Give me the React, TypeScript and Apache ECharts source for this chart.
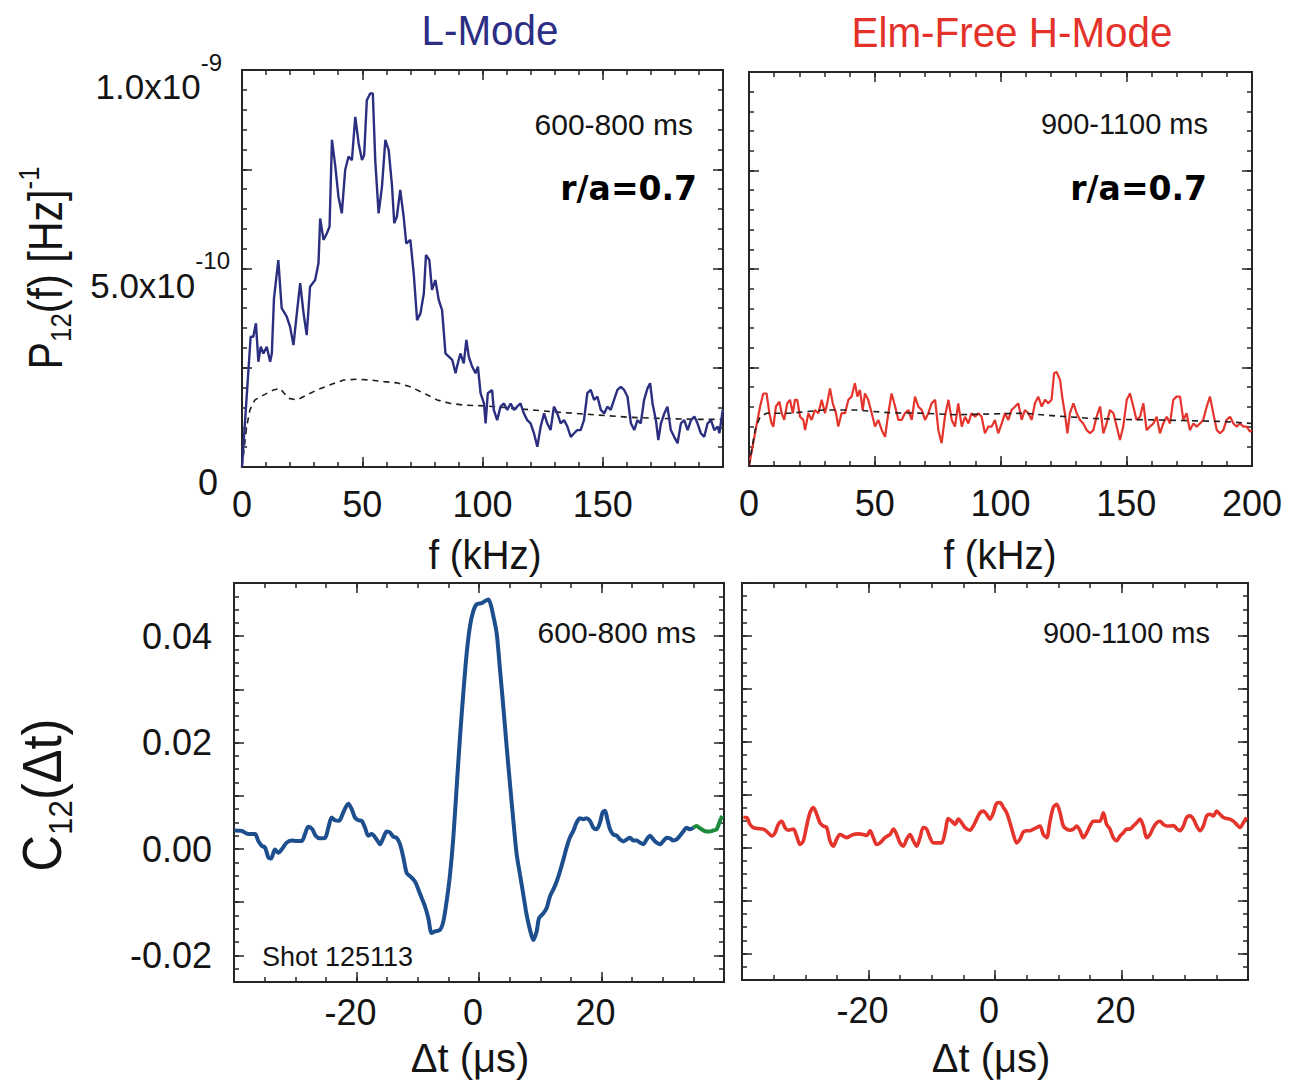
import React, { useEffect, useRef } from "react";
import * as echarts from "echarts";

// ---------------- data ----------------
// Cross power spectrum, L-mode (600-800 ms): [f kHz, P12 in units of 1e-10 Hz^-1]
const lModeSpectrum: number[][] = [
  [0, 0], [3.6, 3.28], [4.7, 3.28], [5.8, 3.62], [6.8, 2.65], [7.8, 3.03], [8.9, 2.86], [10.3, 3.03], [11.7, 2.65], [12.4, 2.86],
  [13.3, 4.25], [15.1, 5.21], [16.5, 4.0], [18.6, 3.79], [20.0, 3.53], [21.4, 3.07], [22.8, 3.87], [24.2, 4.63], [25.6, 3.87], [26.9, 3.32],
  [28.3, 4.54], [30.4, 4.71], [31.8, 5.13], [32.5, 6.26], [33.9, 5.72], [35.3, 5.89], [36.4, 6.05], [37.4, 8.24], [38.8, 7.57], [40.1, 6.81],
  [41.5, 6.39], [42.9, 7.48], [44.3, 7.82], [45.7, 7.73], [47.1, 8.82], [48.5, 8.15], [49.9, 7.73], [50.8, 7.86], [51.9, 9.24], [53.3, 9.41],
  [54.4, 9.41], [55.4, 7.73], [56.8, 6.39], [58.2, 7.06], [59.6, 8.24], [61.0, 7.98], [62.4, 7.06], [63.3, 6.14], [64.4, 6.31], [65.8, 6.98],
  [67.2, 6.31], [68.3, 5.63], [70.0, 5.72], [71.4, 4.88], [72.8, 3.7], [74.2, 3.87], [75.6, 4.37], [76.5, 5.34], [77.9, 5.21], [79.0, 4.46],
  [80.4, 4.71], [81.8, 4.21], [83.2, 3.95], [84.6, 2.86], [86.0, 2.78], [87.4, 2.7], [88.8, 2.36], [89.4, 2.53], [90.8, 2.86], [92.2, 2.61],
  [93.3, 3.2], [94.3, 2.78], [95.7, 2.53], [97.1, 2.36], [98.1, 2.53], [99.2, 1.86], [100.6, 1.6], [101.3, 1.1], [102.2, 1.86], [104.0, 1.94],
  [104.7, 1.44], [106.1, 1.18], [107.5, 1.52], [108.9, 1.6], [110.3, 1.44], [111.7, 1.6], [113.1, 1.44], [114.4, 1.52], [115.8, 1.6], [117.2, 1.35],
  [118.6, 1.18], [120.0, 1.1], [121.4, 0.85], [122.8, 0.51], [124.2, 1.02], [125.6, 1.35], [126.9, 1.1], [128.3, 0.93], [129.7, 1.52], [131.1, 1.35],
  [132.5, 1.1], [133.9, 1.18], [135.3, 1.02], [136.7, 0.76], [138.1, 0.85], [139.4, 0.93], [140.8, 0.93], [142.2, 1.18], [143.6, 1.86], [145.0, 1.94],
  [146.4, 1.69], [147.8, 1.77], [149.2, 1.44], [150.6, 1.35], [151.9, 1.52], [153.3, 1.44], [154.7, 1.69], [156.1, 1.94], [157.5, 2.02], [158.9, 1.94],
  [160.3, 1.77], [161.7, 1.1], [163.1, 0.93], [164.4, 1.18], [165.8, 1.1], [167.2, 1.69], [168.6, 1.98], [169.7, 2.11], [170.7, 1.6], [172.1, 1.18],
  [173.1, 0.68], [174.2, 1.1], [175.6, 1.35], [176.9, 1.52], [178.3, 0.93], [179.7, 0.76], [181.1, 0.6], [182.5, 1.1], [183.9, 1.18], [185.3, 0.93],
  [186.7, 1.18], [188.1, 1.27], [189.4, 1.1], [190.8, 0.85], [192.2, 0.76], [193.6, 1.1], [195.0, 1.18], [196.4, 0.93], [197.8, 1.02], [198.5, 0.85],
  [199.9, 1.44],
];
// Noise level, L-mode
const lModeNoise: number[][] = [
  [0, 0], [1.9, 1.0], [3.3, 1.44], [5.4, 1.69], [8.9, 1.81], [13.1, 1.94], [15.8, 1.98], [19.3, 1.73], [22.8, 1.69], [26.9, 1.81],
  [31.1, 1.94], [36.7, 2.07], [42.2, 2.19], [47.8, 2.21], [53.3, 2.19], [58.9, 2.15], [64.4, 2.12], [70.0, 2.02], [75.6, 1.86], [81.1, 1.69],
  [86.7, 1.6], [92.2, 1.56], [100.6, 1.54], [108.9, 1.5], [120.0, 1.44], [133.9, 1.37], [147.8, 1.31], [161.7, 1.25], [175.6, 1.22], [189.4, 1.2],
  [200.0, 1.2],
];
// Cross power spectrum, ELM-free H-mode (900-1100 ms)
const hModeSpectrum: number[][] = [
  [0, 0], [2.4, 0.83], [4.4, 1.51], [5.7, 1.84], [7.0, 1.84], [8.1, 1.34], [9.0, 1.08], [9.7, 1.0], [10.7, 1.51], [12.1, 1.63],
  [13.0, 1.34], [14.0, 1.17], [15.2, 1.59], [16.3, 1.68], [17.4, 1.34], [18.3, 1.68], [19.2, 1.68], [20.3, 1.25], [21.6, 1.17], [22.3, 0.91],
  [23.6, 1.34], [24.9, 1.17], [26.2, 1.42], [27.6, 1.34], [28.9, 1.68], [30.2, 1.34], [31.1, 1.59], [32.2, 1.97], [33.3, 1.59], [34.6, 1.34],
  [35.5, 1.0], [36.8, 1.34], [38.2, 1.34], [39.5, 1.68], [40.8, 1.76], [42.1, 2.1], [43.1, 1.76], [44.1, 1.93], [45.2, 1.42], [46.1, 1.84],
  [47.4, 1.68], [48.8, 1.34], [50.1, 1.0], [51.4, 1.17], [52.8, 0.91], [54.1, 0.74], [55.4, 1.34], [56.7, 1.84], [58.1, 1.51], [59.4, 1.17],
  [60.7, 1.17], [62.0, 1.34], [63.4, 1.42], [64.7, 1.17], [66.0, 1.76], [67.3, 1.51], [68.7, 1.42], [70.0, 1.17], [71.3, 1.34], [72.6, 1.59],
  [74.0, 1.68], [75.3, 0.91], [76.6, 0.58], [77.9, 1.25], [79.3, 1.68], [80.6, 1.17], [81.9, 1.0], [83.2, 1.59], [84.6, 1.0], [85.9, 1.25],
  [87.2, 1.08], [88.5, 1.34], [89.9, 1.25], [91.2, 1.34], [92.5, 1.25], [93.8, 0.83], [95.2, 1.0], [96.5, 1.0], [97.8, 1.17], [99.1, 0.83],
  [100.5, 1.08], [101.8, 1.34], [103.1, 1.17], [104.4, 1.42], [105.8, 1.51], [107.1, 1.59], [108.4, 1.17], [109.7, 1.42], [111.1, 1.34], [112.4, 1.17],
  [113.7, 1.59], [115.0, 1.76], [116.4, 1.51], [117.7, 1.68], [119.0, 1.59], [120.3, 1.68], [121.3, 2.35], [122.3, 2.39], [123.7, 2.18], [124.7, 1.68],
  [125.6, 1.34], [126.6, 0.83], [127.6, 1.34], [129.0, 1.59], [130.3, 1.34], [131.6, 1.17], [132.9, 1.08], [134.3, 0.91], [135.6, 0.83], [136.9, 0.91],
  [138.2, 1.25], [139.6, 1.51], [140.9, 0.83], [142.2, 1.08], [143.5, 1.42], [144.9, 1.34], [146.2, 1.0], [147.5, 0.66], [148.8, 1.0], [150.2, 1.68],
  [151.5, 1.84], [152.8, 1.51], [154.1, 1.17], [155.5, 1.25], [156.8, 1.59], [158.1, 0.91], [159.4, 1.0], [160.8, 1.08], [162.1, 1.25], [163.4, 0.83],
  [164.7, 1.08], [166.1, 1.25], [167.4, 1.08], [168.7, 1.68], [170.0, 1.76], [171.4, 1.76], [172.7, 1.17], [174.0, 1.34], [175.3, 0.91], [176.7, 1.08],
  [178.0, 1.0], [179.3, 1.08], [180.6, 1.17], [182.0, 1.51], [183.3, 1.76], [184.6, 1.34], [186.0, 0.91], [187.3, 0.83], [188.6, 0.91], [189.9, 1.17],
  [191.3, 1.25], [192.6, 1.08], [193.9, 1.0], [195.2, 1.08], [196.6, 1.0], [197.9, 1.0], [199.2, 0.87], [199.9, 0.91],
];
// Noise level, H-mode
const hModeNoise: number[][] = [
  [0, 0], [2.4, 0.91], [4.4, 1.25], [7.0, 1.34], [16.3, 1.34], [29.6, 1.42], [42.8, 1.42], [56.1, 1.35], [69.3, 1.34], [82.6, 1.3],
  [95.8, 1.32], [109.1, 1.34], [122.3, 1.27], [135.6, 1.21], [148.8, 1.18], [162.1, 1.17], [175.3, 1.15], [188.6, 1.13], [199.9, 1.08],
];
// Cross correlation, L-mode: [dt in microseconds, C12]
const lModeCorr: number[][] = [
  [-39.95, 0.0035], [-38.75, 0.0034], [-37.66, 0.0028], [-36.57, 0.0028], [-36.03, 0.0015], [-35.48, 0.0006], [-34.94, 0.0003], [-34.39, -0.0016],
  [-33.96, -0.0018], [-33.31, -0.0001], [-32.76, -0.0007], [-32.22, -0.0001], [-31.4, 0.0012], [-30.59, 0.0016], [-29.77, 0.0015], [-28.95, 0.0015],
  [-28.41, 0.0028], [-27.86, 0.0042], [-27.21, 0.0037], [-26.67, 0.0025], [-25.96, 0.002], [-25.14, 0.0021], [-24.6, 0.004], [-24.05, 0.0059],
  [-23.51, 0.0054], [-22.86, 0.0053], [-22.15, 0.0069], [-21.33, 0.0085], [-20.79, 0.0075], [-20.24, 0.0059], [-19.7, 0.0054], [-19.16, 0.0053],
  [-18.61, 0.004], [-18.07, 0.0025], [-17.52, 0.0028], [-16.71, 0.0018], [-16.16, 0.0009], [-15.62, 0.0021], [-15.07, 0.0033], [-14.53, 0.0031],
  [-13.99, 0.0023], [-13.44, 0.0021], [-12.9, 0.0009], [-12.35, -0.0016], [-11.81, -0.0045], [-11.27, -0.0051], [-10.45, -0.0061], [-9.9, -0.0076],
  [-9.36, -0.0092], [-8.82, -0.0108], [-8.27, -0.013], [-7.73, -0.0158], [-7.18, -0.0155], [-6.37, -0.0152], [-5.82, -0.0136], [-5.28, -0.0098],
  [-4.73, -0.0048], [-4.19, 0.0022], [-3.65, 0.0116], [-3.1, 0.0211], [-2.56, 0.0293], [-2.01, 0.0368], [-1.47, 0.0419], [-0.93, 0.0447],
  [-0.38, 0.046], [0.44, 0.0462], [0.98, 0.0466], [1.52, 0.0469], [1.9, 0.046], [2.34, 0.0438], [2.88, 0.0406], [3.43, 0.0337],
  [3.97, 0.0267], [4.52, 0.0192], [5.06, 0.0122], [5.61, 0.0053], [6.15, -0.001], [6.69, -0.0048], [7.24, -0.0086], [7.78, -0.0124],
  [8.33, -0.0152], [8.87, -0.0171], [9.41, -0.0155], [9.8, -0.013], [10.5, -0.0121], [11.05, -0.0111], [11.59, -0.0089], [12.14, -0.0076],
  [12.68, -0.0061], [13.22, -0.0042], [13.77, -0.002], [14.31, 0.0003], [14.86, 0.0022], [15.4, 0.0034], [15.95, 0.005], [16.49, 0.0058],
  [17.03, 0.0056], [17.58, 0.0058], [18.12, 0.0053], [18.67, 0.004], [19.21, 0.0037], [19.76, 0.005], [20.19, 0.0069], [20.57, 0.0072],
  [20.95, 0.0056], [21.39, 0.0037], [21.93, 0.0027], [22.48, 0.0025], [23.02, 0.0018], [23.56, 0.0014], [24.11, 0.0018], [24.65, 0.0021],
  [25.2, 0.0016], [25.74, 0.0016], [26.29, 0.0012], [26.83, 0.0009], [27.37, 0.0018], [27.92, 0.0025], [28.46, 0.0018], [29.01, 0.0012],
  [29.55, 0.0009], [30.1, 0.0015], [30.64, 0.0021], [31.18, 0.002], [31.73, 0.0016], [32.27, 0.0018], [32.82, 0.0025], [33.36, 0.0033],
  [33.9, 0.004], [34.45, 0.0037], [34.99, 0.004],
];
// L-mode correlation tail drawn in green
const lModeCorrTail: number[][] = [
  [34.99, 0.004], [35.54, 0.0043], [36.08, 0.0039], [36.63, 0.0035], [37.17, 0.0033], [37.71, 0.0033], [38.26, 0.0035], [38.8, 0.0037],
  [39.35, 0.0053], [39.73, 0.0062],
];
// Cross correlation, H-mode
const hModeCorr: number[][] = [
  [-39.79, 0.0057], [-39.26, 0.0057], [-38.74, 0.0044], [-38.21, 0.0038], [-37.42, 0.0036], [-36.63, 0.0035], [-35.84, 0.0028], [-35.31, 0.0022],
  [-34.78, 0.0028], [-34.26, 0.0044], [-33.73, 0.005], [-33.2, 0.0038], [-32.67, 0.0033], [-31.88, 0.0035], [-31.36, 0.0022], [-30.83, 0.0006],
  [-30.3, 0.0013], [-29.78, 0.0041], [-29.25, 0.0066], [-28.72, 0.0076], [-28.19, 0.0063], [-27.67, 0.0047], [-27.14, 0.0041], [-26.61, 0.0038],
  [-26.09, 0.0013], [-25.56, 0.0003], [-25.03, 0.0016], [-24.51, 0.0025], [-23.98, 0.0022], [-23.45, 0.0019], [-22.92, 0.0022], [-22.4, 0.0025],
  [-21.61, 0.0026], [-20.82, 0.0025], [-20.29, 0.0023], [-19.76, 0.0032], [-19.24, 0.0019], [-18.71, 0.0006], [-18.18, 0.0009], [-17.39, 0.0019],
  [-16.6, 0.0025], [-16.07, 0.0035], [-15.55, 0.0025], [-15.02, 0.0009], [-14.49, 0.0003], [-13.97, 0.0016], [-13.44, 0.0025], [-12.91, 0.0013],
  [-12.38, 0.0003], [-11.86, 0.0019], [-11.33, 0.0038], [-10.8, 0.0035], [-10.28, 0.0019], [-9.75, 0.0009], [-8.96, 0.0009], [-8.43, 0.0009],
  [-7.91, 0.0028], [-7.38, 0.0055], [-6.85, 0.005], [-6.32, 0.0044], [-5.8, 0.0054], [-5.27, 0.0047], [-4.74, 0.0038], [-3.95, 0.0033],
  [-3.43, 0.0041], [-2.9, 0.0054], [-2.37, 0.0066], [-1.84, 0.0069], [-1.32, 0.0063], [-0.79, 0.0054], [-0.26, 0.0066], [0.26, 0.0084],
  [0.79, 0.0085], [1.32, 0.0076], [1.84, 0.0066], [2.37, 0.0047], [2.9, 0.0025], [3.43, 0.0009], [3.95, 0.0016], [4.48, 0.003],
  [5.01, 0.0032], [5.53, 0.0032], [6.06, 0.0035], [6.59, 0.0038], [7.11, 0.0041], [7.64, 0.0025], [8.17, 0.0019], [8.7, 0.005],
  [9.22, 0.0076], [9.75, 0.0082], [10.28, 0.0066], [10.8, 0.0041], [11.33, 0.0035], [11.86, 0.0033], [12.38, 0.0035], [12.91, 0.0041],
  [13.44, 0.0032], [13.97, 0.0019], [14.49, 0.0028], [15.02, 0.0041], [15.55, 0.005], [16.07, 0.005], [16.6, 0.005], [17.13, 0.0066],
  [17.65, 0.0044], [18.18, 0.0035], [18.71, 0.0019], [19.24, 0.0013], [19.76, 0.0022], [20.29, 0.0028], [20.82, 0.0035], [21.34, 0.0035],
  [21.87, 0.0041], [22.4, 0.0047], [22.92, 0.0054], [23.45, 0.0041], [23.98, 0.0019], [24.51, 0.0025], [25.03, 0.0038], [25.56, 0.0047],
  [26.09, 0.005], [26.61, 0.0044], [27.14, 0.0041], [27.67, 0.0041], [28.19, 0.0042], [28.72, 0.0036], [29.25, 0.0032], [29.78, 0.0041],
  [30.3, 0.0057], [30.83, 0.006], [31.36, 0.0054], [31.88, 0.0041], [32.41, 0.0032], [32.94, 0.0041], [33.47, 0.006], [33.99, 0.0063],
  [34.52, 0.006], [35.05, 0.0069], [35.57, 0.0063], [36.1, 0.0057], [36.63, 0.0055], [37.15, 0.0054], [37.68, 0.005], [38.21, 0.0044],
  [38.74, 0.0038], [39.26, 0.0047], [39.79, 0.0057],
];

// ---------------- ticks ----------------
const freqLabelsLeft = [0, 50, 100, 150];
const freqLabelsRight = [0, 50, 100, 150, 200];
const freqMajor = [0, 50, 100, 150, 200];
const powerLabels = [0, 5, 10]; // units of 1e-10
const powerMajor = [0, 2.5, 5, 7.5, 10];
const dtLabels = [-20, 0, 20];
const dtMajor = [-40, -20, 0, 20, 40];
const corrLabels = [-0.02, 0, 0.02, 0.04];
const corrMajor = [-0.02, -0.01, 0, 0.01, 0.02, 0.03, 0.04, 0.05];

const steps = (a: number, b: number, s: number) => {
  const out: number[] = [];
  const n = Math.round((b - a) / s);
  for (let i = 0; i <= n; i++) out.push(+(a + i * s).toFixed(6));
  return out;
};
const freqMinor = steps(0, 200, 10);
const powerMinor = steps(0, 10, 0.5);
const dtMinor = steps(-40, 40, 5);
const corrMinor = steps(-0.025, 0.05, 0.0025);

const FONT = "'Liberation Sans', Arial, Helvetica, sans-serif";
const INK = "#141414";

function boxAxes(
  dim: "x" | "y",
  gridIndex: number,
  min: number,
  max: number,
  major: number[],
  minor: number[],
  labelValues: number[],
  label: any
) {
  const pPos = dim === "x" ? "bottom" : "left";
  const oPos = dim === "x" ? "top" : "right";
  const make = (pos: string, ticks: number[], len: number, withLabel: boolean) => ({
    type: "value",
    gridIndex,
    position: pos,
    min,
    max,
    axisLine: { show: false, onZero: false },
    splitLine: { show: false },
    axisTick: {
      show: true,
      inside: true,
      length: len,
      customValues: ticks,
      lineStyle: { color: "#262626", width: 1.5 },
    },
    axisLabel: withLabel
      ? { show: true, customValues: labelValues, fontFamily: FONT, color: INK, ...label }
      : { show: false },
  });
  return [make(pPos, major, 10, true), make(pPos, minor, 5, false), make(oPos, major, 10, false), make(oPos, minor, 5, false)];
}

const freqLabelStyle = { fontSize: 36, margin: 19, formatter: (v: number) => String(v) };
const dtLabelStyle = { fontSize: 36, margin: 12, padding: [0, 12, 0, 0], formatter: (v: number) => String(v) };
const corrLabelStyle = { fontSize: 36, margin: 22, padding: [8, 0, 0, 0], formatter: (v: number) => v.toFixed(2) };
const powerLabelStyle = {
  margin: 12,
  padding: [14, 0, 0, 0],
  formatter: (v: number) => {
    if (v === 0) return "{z|0}";
    if (v === 5) return "{m|5.0x10}{s|-10}";
    if (v === 10) return "{m|1.0x10}{s9|-9}";
    return "";
  },
  rich: {
    z: { fontSize: 36, fontFamily: FONT, color: INK, padding: [16, 12, 0, 0] },
    m: { fontSize: 35, fontFamily: FONT, color: INK, verticalAlign: "bottom" },
    s: { fontSize: 24, fontFamily: FONT, color: INK, verticalAlign: "top", padding: [0, 0, 30, 0] },
    s9: { fontSize: 24, fontFamily: FONT, color: INK, verticalAlign: "top", padding: [0, 8, 30, 0] },
  },
};

function text(x: number, y: number, str: string, size: number, opts: any = {}) {
  const { align = "right", color = INK, weight = "normal", family = FONT, scaleX = 1, rotation = 0 } = opts;
  return {
    type: "text",
    x,
    y,
    scaleX,
    rotation,
    silent: true,
    style: {
      text: str,
      fontSize: size,
      fontFamily: family,
      fontWeight: weight,
      fill: color,
      align,
      textAlign: align,
      verticalAlign: "middle",
      textVerticalAlign: "middle",
    },
  };
}

function richText(x: number, y: number, str: string, size: number, subSize: number, scaleX: number) {
  return {
    type: "text",
    x,
    y,
    rotation: Math.PI / 2,
    scaleX,
    silent: true,
    style: {
      text: str,
      fill: INK,
      align: "center",
      textAlign: "center",
      verticalAlign: "middle",
      textVerticalAlign: "middle",
      rich: {
        b: { fontSize: size, fontFamily: FONT, fill: INK },
        sub: { fontSize: subSize, fontFamily: FONT, fill: INK, verticalAlign: "bottom", padding: [Math.round(size * 0.66), 0, 0, 0] },
        sup: { fontSize: subSize, fontFamily: FONT, fill: INK, verticalAlign: "top", padding: [0, 0, Math.round(size * 0.66), 0] },
      },
    },
  };
}

export default function App() {
  const ref = useRef<HTMLDivElement>(null);
  useEffect(() => {
    if (!ref.current) return;
    const chart = echarts.init(ref.current, undefined, { renderer: "svg" });
    const gridStyle = { show: true, borderColor: "#262626", borderWidth: 2, backgroundColor: "transparent" };
    const grids = [
      { left: 242, top: 70, width: 481, height: 397, ...gridStyle },
      { left: 749, top: 72, width: 503, height: 394, ...gridStyle },
      { left: 234, top: 583, width: 490, height: 399, ...gridStyle },
      { left: 742, top: 583, width: 506, height: 397, ...gridStyle },
    ];
    const xAxis = [
      ...boxAxes("x", 0, 0, 200, freqMajor, freqMinor, freqLabelsLeft, freqLabelStyle),
      ...boxAxes("x", 1, 0, 200, freqMajor, freqMinor, freqLabelsRight, freqLabelStyle),
      ...boxAxes("x", 2, -40, 40, dtMajor, dtMinor, dtLabels, dtLabelStyle),
      ...boxAxes("x", 3, -40, 40, dtMajor, dtMinor, dtLabels, dtLabelStyle),
    ];
    const yAxis = [
      ...boxAxes("y", 0, 0, 10, powerMajor, powerMinor, powerLabels, powerLabelStyle),
      ...boxAxes("y", 1, 0, 10, powerMajor, powerMinor, [], { show: false }),
      ...boxAxes("y", 2, -0.025, 0.05, corrMajor, corrMinor, corrLabels, corrLabelStyle),
      ...boxAxes("y", 3, -0.025, 0.05, corrMajor, corrMinor, [], { show: false }),
    ];
    const line = (g: number, data: number[][], color: string, width: number, extra: any = {}) => ({
      type: "line",
      xAxisIndex: g * 4,
      yAxisIndex: g * 4,
      data,
      symbol: "none",
      showSymbol: false,
      silent: true,
      clip: true,
      lineStyle: { color, width, ...extra.lineStyle },
      smooth: extra.smooth ?? false,
      z: extra.z ?? 3,
    });
    const series = [
      line(0, lModeNoise, "#1e1e1e", 1.6, { lineStyle: { type: [6, 5] }, z: 2 }),
      line(0, lModeSpectrum, "#2b2f80", 2.4),
      line(1, hModeSpectrum, "#e4342b", 2.2),
      line(1, hModeNoise, "#1e1e1e", 1.6, { lineStyle: { type: [6, 5] }, z: 4 }),
      line(2, lModeCorr, "#1d4f8f", 4, { smooth: 0.3 }),
      line(2, lModeCorrTail, "#1f8a3c", 4, { smooth: 0.3 }),
      line(3, hModeCorr, "#e4342b", 3.6, { smooth: 0.3 }),
    ];
    const graphic = [
      text(490, 30, "L-Mode", 43, { align: "center", color: "#2b2e83", scaleX: 0.94 }),
      text(1012, 32, "Elm-Free H-Mode", 43, { align: "center", color: "#e4322b", scaleX: 0.94 }),
      text(693, 124, "600-800 ms", 30),
      text(697, 188, "r/a=0.7", 33, { weight: "bold", family: "'DejaVu Sans', sans-serif", color: "#000" }),
      text(1208, 124, "900-1100 ms", 29),
      text(1207, 188, "r/a=0.7", 33, { weight: "bold", family: "'DejaVu Sans', sans-serif", color: "#000" }),
      text(696, 632, "600-800 ms", 30),
      text(1210, 633, "900-1100 ms", 29),
      text(262, 957, "Shot 125113", 27, { align: "left" }),
      text(485, 555, "f (kHz)", 40, { align: "center", scaleX: 0.96 }),
      text(1000, 555, "f (kHz)", 40, { align: "center", scaleX: 0.96 }),
      text(470, 1058, "Δt (μs)", 40, { align: "center" }),
      text(991, 1058, "Δt (μs)", 40, { align: "center" }),
      richText(45, 268, "{b|P}{sub|12}{b|(f) [Hz]}{sup|-1}", 48, 30, 0.86),
      richText(42, 795, "{b|C}{sub|12}{b|(Δt)}", 55, 34, 0.92),
    ];
    chart.setOption({
      animation: false,
      backgroundColor: "#ffffff",
      grid: grids,
      xAxis,
      yAxis,
      series,
      graphic,
    });
    return () => chart.dispose();
  }, []);
  return (
    <div
      ref={ref}
      style={{ position: "absolute", left: 0, top: 0, width: 1294, height: 1083, background: "#fff" }}
    />
  );
}
